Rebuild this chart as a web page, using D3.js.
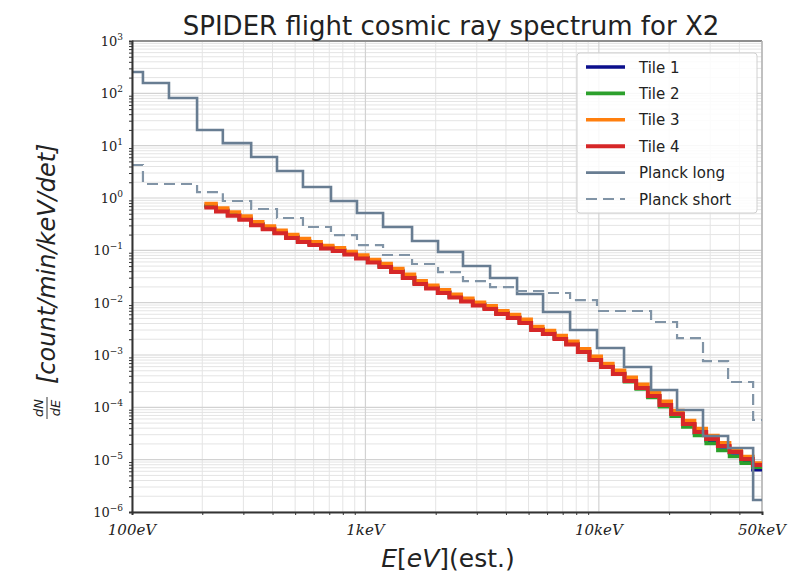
<!DOCTYPE html>
<html>
<head>
<meta charset="utf-8">
<script src="https://cdn.jsdelivr.net/npm/d3@7"></script>
<style>
  body { margin: 0; background: #fff; }
  text { font-family: "DejaVu Sans", sans-serif; }
</style>
</head>
<body>
<svg id="chart" width="812" height="574"></svg>
<script>
// bin edges (eV) of the Planck reference histograms
const planckEdges = [100, 111.4, 144, 190, 245, 324, 418, 540, 712, 920, 1190, 1584, 2047, 2618, 3420,
  4463, 5768, 7530, 9820, 12820, 16740, 21630, 27940, 35780, 45810, 50000];
const planckLong = [256, 158, 81.5, 19.9, 11.2, 6.07, 3.28, 1.62, 0.877, 0.517, 0.279, 0.151, 0.093,
  0.0502, 0.0296, 0.0146, 0.00663, 0.00300, 0.00136, 5.89e-4, 2.14e-4, 8.89e-5, 2.83e-5, 1.67e-5, 1.69e-6];
const planckShort = [4.27, 1.85, 1.85, 1.30, 0.877, 0.616, 0.415, 0.279, 0.196, 0.126, 0.0814, 0.0548,
  0.0385, 0.0259, 0.0199, 0.0167, 0.0153, 0.0112, 0.00693, 0.00693, 0.00427, 0.00211, 7.67e-4, 3.05e-4, 5.73e-5];

// tile histograms: 20 bins per decade starting at 10^2.31 eV
const tileLogStart = 2.31;
const tileBinsPerDecade = 20;
const tile1 = [0.72, 0.58, 0.48, 0.41, 0.32, 0.268, 0.222, 0.183, 0.152, 0.133, 0.114, 0.102, 0.088, 0.073,
  0.062, 0.051, 0.041, 0.031, 0.0238, 0.0196, 0.0160, 0.0132, 0.0110, 0.0093, 0.0080, 0.0064, 0.0053, 0.0043,
  0.00315, 0.00265, 0.00212, 0.00166, 0.00118, 8.3e-4, 6.1e-4, 4.5e-4, 3.3e-4, 2.4e-4, 1.66e-4, 1.12e-4,
  7.5e-5, 4.7e-5, 3.2e-5, 2.3e-5, 1.75e-5, 1.35e-5, 9.5e-6, 6.4e-6];
const tile2 = [0.68, 0.56, 0.47, 0.395, 0.31, 0.258, 0.216, 0.178, 0.149, 0.129, 0.111, 0.100, 0.086, 0.072,
  0.060, 0.049, 0.039, 0.030, 0.0232, 0.0191, 0.0157, 0.0129, 0.0108, 0.0091, 0.0078, 0.0062, 0.0052, 0.0042,
  0.00308, 0.00258, 0.00207, 0.00163, 0.00117, 8.1e-4, 5.9e-4, 4.3e-4, 3.1e-4, 2.25e-4, 1.55e-4, 1.03e-4,
  6.8e-5, 4.2e-5, 2.9e-5, 2.05e-5, 1.5e-5, 1.15e-5, 8.6e-6, 7.2e-6];
const tile3 = [0.78, 0.64, 0.54, 0.45, 0.35, 0.292, 0.242, 0.200, 0.168, 0.145, 0.124, 0.112, 0.095, 0.081,
  0.067, 0.056, 0.045, 0.035, 0.0262, 0.0215, 0.0177, 0.0145, 0.0121, 0.0102, 0.0087, 0.0070, 0.0059, 0.0048,
  0.00350, 0.00294, 0.00235, 0.00182, 0.00132, 9.4e-4, 6.9e-4, 5.1e-4, 3.75e-4, 2.75e-4, 1.92e-4, 1.30e-4,
  8.7e-5, 5.6e-5, 3.95e-5, 2.9e-5, 2.1e-5, 1.6e-5, 1.15e-5, 8.6e-6];
const tile4 = [0.66, 0.55, 0.46, 0.385, 0.30, 0.252, 0.211, 0.173, 0.145, 0.127, 0.109, 0.0975, 0.0835,
  0.0700, 0.0586, 0.0481, 0.0385, 0.0296, 0.0227, 0.0187, 0.0153, 0.0126, 0.0105, 0.00883, 0.00757, 0.00607,
  0.00509, 0.00408, 0.00300, 0.00252, 0.00202, 0.00159, 0.00114, 8.02e-4, 5.89e-4, 4.33e-4, 3.18e-4, 2.34e-4,
  1.64e-4, 1.11e-4, 7.45e-5, 4.80e-5, 3.37e-5, 2.48e-5, 1.82e-5, 1.40e-5, 1.03e-5, 7.90e-6];

const xTicks = [100, 1000, 10000, 50000];
const xTickLabels = ["100eV", "1keV", "10keV", "50keV"];
const yExponents = [3, 2, 1, 0, -1, -2, -3, -4, -5, -6];

const seriesNames = ["Tile 1", "Tile 2", "Tile 3", "Tile 4", "Planck long", "Planck short"];
const seriesColors = ["#0b0f8c", "#2ca02c", "#ff7f0e", "#d62728", "#687d92", "#8194a6"];

const margin = {top: 41, right: 50, bottom: 62, left: 132};
const width = 812 - margin.left - margin.right;
const height = 574 - margin.top - margin.bottom;

const svg = d3.select("#chart");
const g = svg.append("g").attr("transform", `translate(${margin.left},${margin.top})`);

const x = d3.scaleLog().domain([100, 50000]).range([0, width]);
const y = d3.scaleLog().domain([1e-6, 1e3]).range([height, 0]);

// minor positions
const xMinor = [];
[100, 1000, 10000].forEach(d => { for (let k = 2; k <= 9; k++) if (d * k < 50000) xMinor.push(d * k); });
const yMajor = yExponents.map(e => Math.pow(10, e));
const yMinor = [];
yExponents.slice(1).forEach(e => { for (let k = 2; k <= 9; k++) yMinor.push(k * Math.pow(10, e)); });

// grid
g.append("g").selectAll("line").data(yMinor).join("line")
  .attr("x1", 0).attr("x2", width).attr("y1", d => y(d)).attr("y2", d => y(d))
  .attr("stroke", "#e4e4e4").attr("stroke-width", 1);
g.append("g").selectAll("line").data(xMinor).join("line")
  .attr("y1", 0).attr("y2", height).attr("x1", d => x(d)).attr("x2", d => x(d))
  .attr("stroke", "#e4e4e4").attr("stroke-width", 1);
g.append("g").selectAll("line").data(yMajor).join("line")
  .attr("x1", 0).attr("x2", width).attr("y1", d => y(d)).attr("y2", d => y(d))
  .attr("stroke", "#d2d2d2").attr("stroke-width", 1.2);
g.append("g").selectAll("line").data(xTicks).join("line")
  .attr("y1", 0).attr("y2", height).attr("x1", d => x(d)).attr("x2", d => x(d))
  .attr("stroke", "#d2d2d2").attr("stroke-width", 1.2);

// frame (top/right light)
g.append("line").attr("x1", 0).attr("x2", width).attr("y1", 0).attr("y2", 0)
  .attr("stroke", "#8f8f8f").attr("stroke-width", 1.8);
g.append("line").attr("x1", width).attr("x2", width).attr("y1", 0).attr("y2", height)
  .attr("stroke", "#b5b5b5").attr("stroke-width", 1.5);

// histograms
function stepPoints(edges, vals) {
  const pts = vals.map((v, i) => [edges[i], v]);
  pts.push([edges[vals.length], vals[vals.length - 1]]);
  return pts;
}
const tileEdges = d3.range(tile4.length + 1)
  .map(i => Math.min(50000, Math.pow(10, tileLogStart + i / tileBinsPerDecade)));

const line = d3.line().x(d => x(d[0])).y(d => y(d[1])).curve(d3.curveStepAfter);

const series = [
  {edges: tileEdges, vals: tile1, w: 3.6},
  {edges: tileEdges, vals: tile2, w: 3.6},
  {edges: tileEdges, vals: tile3, w: 3.6},
  {edges: tileEdges, vals: tile4, w: 4},
  {edges: planckEdges, vals: planckLong, w: 2.6},
  {edges: planckEdges, vals: planckShort, w: 2.2, dash: "11,6"}
];

const plot = g.append("g");
series.forEach((s, i) => {
  plot.append("path")
    .attr("d", line(stepPoints(s.edges, s.vals)))
    .attr("fill", "none")
    .attr("stroke", seriesColors[i])
    .attr("stroke-width", s.w)
    .attr("stroke-dasharray", s.dash || null);
});

// axes
const yAxis = g.append("g");
yAxis.call(d3.axisLeft(y).tickValues(yMajor).tickSize(5).tickFormat(""));
yAxis.call(d3.axisLeft(y).tickValues(yMinor).tickSize(3).tickFormat(""));
yAxis.selectAll(".domain").attr("stroke", "#333").attr("stroke-width", 2);
yAxis.selectAll(".tick line").attr("stroke", "#333");

const xAxis = g.append("g").attr("transform", `translate(0,${height})`);
xAxis.call(d3.axisBottom(x).tickValues(xTicks).tickSize(5).tickFormat(""));
xAxis.call(d3.axisBottom(x).tickValues(xMinor).tickSize(3).tickFormat(""));
xAxis.selectAll(".domain").attr("stroke", "#333").attr("stroke-width", 2);
xAxis.selectAll(".tick line").attr("stroke", "#333");

// y tick labels 10^n
yExponents.forEach(e => {
  const t = g.append("text")
    .attr("x", -9).attr("y", y(Math.pow(10, e)) + 5)
    .attr("text-anchor", "end")
    .style("font-family", "'DejaVu Serif', serif")
    .style("font-size", "13px").attr("fill", "#222");
  t.append("tspan").text("10");
  t.append("tspan").attr("dy", -6).style("font-size", "9px").text(e < 0 ? "\u2212" + (-e) : e);
});

// x tick labels
xTicks.forEach((d, i) => {
  g.append("text")
    .attr("x", x(d)).attr("y", height + 23)
    .attr("text-anchor", "middle")
    .style("font-family", "'DejaVu Serif', serif")
    .style("font-style", "italic")
    .style("font-size", "15px").attr("fill", "#222")
    .text(xTickLabels[i]);
});

// title
svg.append("text")
  .attr("x", margin.left + width / 2 + 4).attr("y", 35)
  .attr("text-anchor", "middle")
  .style("font-size", "26px").attr("fill", "#222")
  .text("SPIDER flight cosmic ray spectrum for X2");

// x label
const xl = svg.append("text")
  .attr("x", margin.left + width / 2 + 1).attr("y", 567)
  .attr("text-anchor", "middle")
  .style("font-size", "25px").attr("fill", "#222");
xl.append("tspan").style("font-style", "italic").text("E");
xl.append("tspan").text("[");
xl.append("tspan").style("font-style", "italic").text("eV");
xl.append("tspan").text("](est.)");

// y label with dN/dE fraction
const yl = svg.append("g").attr("transform", "translate(46,277) rotate(-90)");
yl.append("text").attr("x", -107).attr("y", 9)
  .style("font-size", "24px").style("font-style", "italic").attr("fill", "#222")
  .text("[count/min/keV/det]");
yl.append("text").attr("x", -131).attr("y", -3).attr("text-anchor", "middle")
  .style("font-size", "13px").style("font-style", "italic").attr("fill", "#222").text("dN");
yl.append("line").attr("x1", -142).attr("x2", -120).attr("y1", 1).attr("y2", 1)
  .attr("stroke", "#222").attr("stroke-width", 0.9);
yl.append("text").attr("x", -131).attr("y", 14).attr("text-anchor", "middle")
  .style("font-size", "13px").style("font-style", "italic").attr("fill", "#222").text("dE");

// legend
const lg = svg.append("g").attr("transform", "translate(577,53)");
lg.append("rect").attr("width", 180).attr("height", 160).attr("rx", 3)
  .attr("fill", "#fff").attr("fill-opacity", 0.85)
  .attr("stroke", "#d0d0d0");
seriesNames.forEach((name, i) => {
  const row = lg.append("g").attr("transform", `translate(0,${14 + i * 26.4})`);
  row.append("line").attr("x1", 9).attr("x2", 48).attr("y1", 0).attr("y2", 0)
    .attr("stroke", seriesColors[i]).attr("stroke-width", series[i].w)
    .attr("stroke-dasharray", series[i].dash || null);
  row.append("text").attr("x", 62).attr("y", 5.5)
    .style("font-size", "15px").attr("fill", "#222").text(name);
});
</script>
</body>
</html>
